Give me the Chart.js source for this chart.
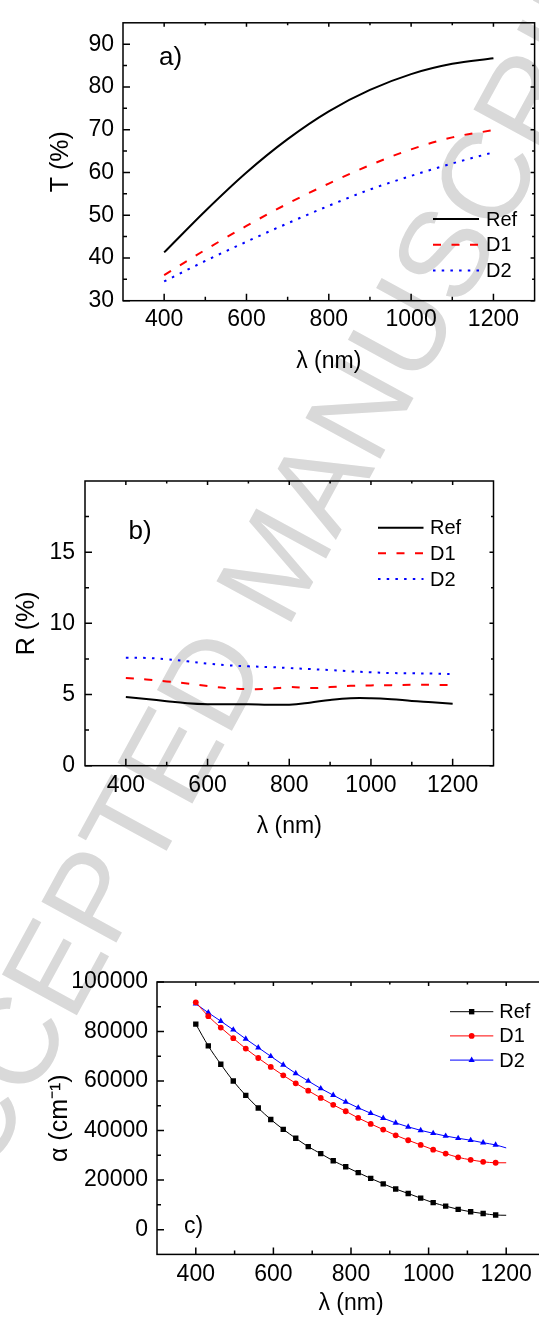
<!DOCTYPE html>
<html><head><meta charset="utf-8">
<script src="https://cdn.jsdelivr.net/npm/chart.js@4.4.1/dist/chart.umd.min.js"></script>
<style>
html,body{margin:0;padding:0;width:539px;height:1317px;overflow:hidden;background:#fff;}
#wm{position:absolute;left:275px;top:562px;transform:translate(-50%,-50%) rotate(-61.4deg);font:124px "Liberation Sans",Arial,sans-serif;color:#d9d9d9;white-space:nowrap;z-index:0;}
.box{position:absolute;left:0;z-index:1;}
canvas{display:block;}
</style></head><body>
<div id="wm">ACCEPTED MANUSCRIPT</div>
<div class="box" style="top:0px"><canvas id="ca" width="539" height="390"></canvas></div>
<div class="box" style="top:440px"><canvas id="cb" width="539" height="401"></canvas></div>
<div class="box" style="top:945px"><canvas id="cc" width="560" height="372"></canvas></div>
<script>
// ---------- data: panel a) transmittance ----------
const panelA_wavelength = [400, 500, 600, 700, 800, 900, 1000, 1100, 1200];
const panelA_T_Ref = [41.3, 51.0, 60.0, 67.8, 74.3, 79.3, 83.0, 85.4, 86.7];
const panelA_T_D1  = [36.0, 41.9, 47.5, 52.7, 57.4, 61.7, 65.4, 68.2, 69.9];
const panelA_T_D2  = [34.5, 39.3, 43.8, 48.1, 52.2, 56.0, 59.2, 62.1, 64.7];
const panelA_xTicks = [400, 600, 800, 1000, 1200];
const panelA_xMinor = [500, 700, 900, 1100];
const panelA_yTicks = [30, 40, 50, 60, 70, 80, 90];
const panelA_yMinor = [35, 45, 55, 65, 75, 85];

// ---------- data: panel b) reflectance ----------
const panelB_wavelength = [400, 450, 500, 550, 600, 650, 700, 750, 800, 850, 900, 950, 1000, 1050, 1100, 1150, 1200];
const panelB_R_Ref = [4.83, 4.69, 4.53, 4.39, 4.32, 4.32, 4.32, 4.29, 4.29, 4.43, 4.62, 4.74, 4.74, 4.67, 4.55, 4.46, 4.36];
const panelB_R_D1  = [6.16, 6.06, 5.92, 5.78, 5.59, 5.45, 5.38, 5.40, 5.52, 5.45, 5.52, 5.61, 5.64, 5.66, 5.68, 5.68, 5.66];
const panelB_R_D2  = [7.59, 7.57, 7.48, 7.33, 7.17, 7.05, 6.98, 6.93, 6.86, 6.79, 6.72, 6.63, 6.56, 6.51, 6.49, 6.47, 6.44];
const panelB_xTicks = [400, 600, 800, 1000, 1200];
const panelB_xMinor = [500, 700, 900, 1100];
const panelB_yTicks = [0, 5, 10, 15];
const panelB_yMinor = [2.5, 7.5, 12.5, 17.5];

// ---------- data: panel c) absorption coefficient ----------
const panelC_wavelength = [400, 432.2, 464.4, 496.6, 528.8, 561, 593.2, 625.4, 657.6, 689.8, 722, 754.2, 786.4, 818.6, 850.8, 883, 915.2, 947.4, 979.6, 1011.8, 1044, 1076.2, 1108.4, 1140.6, 1172.8, 1200];
const panelC_alpha_Ref = [83000, 74200, 66800, 60000, 54200, 49100, 44500, 40500, 36900, 33500, 30700, 27800, 25400, 23000, 20700, 18500, 16400, 14600, 12700, 10900, 9500, 8200, 7200, 6500, 5900, 5800];
const panelC_alpha_D1  = [91800, 86200, 81600, 77300, 73100, 69300, 65700, 62300, 59100, 56100, 53200, 50400, 47800, 45100, 42700, 40400, 38100, 36100, 34200, 32300, 30700, 29200, 28200, 27400, 27000, 27000];
const panelC_alpha_D2  = [91200, 87600, 84200, 80700, 77000, 73500, 70000, 66500, 63100, 60000, 57000, 54300, 51600, 49200, 47000, 45000, 43100, 41500, 40100, 38900, 37800, 36900, 36100, 35100, 34200, 33000];
const panelC_xTicks = [400, 600, 800, 1000, 1200];
const panelC_xMinor = [500, 700, 900, 1100];
const panelC_yTicks = [0, 20000, 40000, 60000, 80000, 100000];
const panelC_yMinor = [10000, 30000, 50000, 70000, 90000];

const seriesNames = ['Ref', 'D1', 'D2'];

// ---------- plugins ----------
Chart.defaults.font.family = '"Liberation Sans", Arial, sans-serif';
Chart.defaults.color = '#000';

const frameTicks = {
  id: 'frameTicks',
  afterDatasetsDraw(chart, args, o) {
    const {ctx, chartArea: a} = chart;
    const xs = chart.scales.x, ys = chart.scales.y;
    ctx.save();
    ctx.strokeStyle = '#000';
    ctx.lineWidth = 1.5;
    ctx.setLineDash([]);
    ctx.beginPath();
    const drawX = (vals, lb, lt) => vals.forEach(v => {
      const px = xs.getPixelForValue(v);
      ctx.moveTo(px, a.bottom); ctx.lineTo(px, a.bottom - lb);
      ctx.moveTo(px, a.top); ctx.lineTo(px, a.top + lt);
    });
    const drawY = (vals, ll, lr) => vals.forEach(v => {
      const py = ys.getPixelForValue(v);
      ctx.moveTo(a.left, py); ctx.lineTo(a.left + ll, py);
      ctx.moveTo(a.right, py); ctx.lineTo(a.right - lr, py);
    });
    drawX(o.xMajor, 7, 4); drawX(o.xMinor, 4, 2.5);
    drawY(o.yMajor, 7, 4); drawY(o.yMinor, 4, 2.5);
    ctx.stroke();
    ctx.strokeRect(a.left, a.top, a.right - a.left, a.bottom - a.top);
    ctx.restore();
  }
};

const inlineLegend = {
  id: 'inlineLegend',
  afterDraw(chart, args, o) {
    const ctx = chart.ctx;
    chart.data.datasets.forEach((ds, i) => {
      const yy = o.y0 + i * o.dy;
      ctx.save();
      ctx.strokeStyle = ds.borderColor;
      ctx.lineWidth = ds.borderWidth;
      ctx.setLineDash(ds.borderDash || []);
      ctx.beginPath(); ctx.moveTo(o.x0, yy); ctx.lineTo(o.x1, yy); ctx.stroke();
      ctx.setLineDash([]);
      if (o.markers) {
        ctx.fillStyle = ds.borderColor;
        Chart.helpers.drawPoint(ctx, {pointStyle: ds.pointStyle, rotation: 0, radius: ds.markerSize, borderWidth: 0}, (o.x0 + o.x1) / 2, yy);
      }
      ctx.fillStyle = '#000';
      ctx.font = o.font;
      ctx.textBaseline = 'middle';
      ctx.textAlign = 'left';
      ctx.fillText(ds.label, o.tx, yy + 1);
      ctx.restore();
    });
    ctx.save();
    ctx.fillStyle = '#000';
    ctx.font = o.panelFont;
    ctx.textBaseline = 'alphabetic';
    ctx.fillText(o.panel, o.px, o.py);
    ctx.restore();
  }
};

function pts(xs, ys) { return xs.map((x, i) => ({x: x, y: ys[i]})); }

function scales(c) {
  const tickFont = {size: 23};
  return {
    x: {
      type: 'linear', position: 'bottom', min: c.xMin, max: c.xMax,
      afterBuildTicks: s => { s.ticks = c.xTicks.map(v => ({value: v})); },
      afterFit: s => { s.height = c.xH; },
      grid: {display: false, drawTicks: false}, border: {display: false},
      ticks: {padding: c.xPad, font: tickFont, maxRotation: 0, autoSkip: false, callback: v => String(v)},
      title: {display: true, text: 'λ (nm)', font: {size: 23}, padding: {top: 0, bottom: c.xTitlePad}}
    },
    y: {
      type: 'linear', position: 'left', min: c.yMin, max: c.yMax,
      afterBuildTicks: s => { s.ticks = c.yTicks.map(v => ({value: v})); },
      afterFit: s => { s.width = c.yW; },
      grid: {display: false, drawTicks: false}, border: {display: false},
      ticks: {padding: c.yPad, font: tickFont, autoSkip: false, callback: v => String(v)},
      title: {display: true, text: c.yTitle, font: {size: 25}, padding: {top: c.yTitlePad, bottom: 0}}
    }
  };
}

// ---------- panel a ----------
new Chart(document.getElementById('ca'), {
  type: 'line',
  data: {datasets: [
    {label: seriesNames[0], data: pts(panelA_wavelength, panelA_T_Ref), borderColor: '#000000', borderWidth: 2, pointRadius: 0, cubicInterpolationMode: 'monotone'},
    {label: seriesNames[1], data: pts(panelA_wavelength, panelA_T_D1), borderColor: '#ff0000', borderWidth: 2, borderDash: [8, 10.5], pointRadius: 0, cubicInterpolationMode: 'monotone'},
    {label: seriesNames[2], data: pts(panelA_wavelength, panelA_T_D2), borderColor: '#0000ff', borderWidth: 2, borderDash: [2.5, 6.2], pointRadius: 0, cubicInterpolationMode: 'monotone'}
  ]},
  options: {
    responsive: false, animation: false, devicePixelRatio: 1,
    layout: {padding: {left: 0, top: 14, right: 4.4, bottom: 0}},
    scales: scales({xMin: 300, xMax: 1300, xTicks: panelA_xTicks, xH: 89.3, xPad: 5, xTitlePad: 14.5,
                     yMin: 30, yMax: 95, yTicks: panelA_yTicks, yW: 123, yPad: 9, yTitle: 'T (%)', yTitlePad: 46}),
    plugins: {
      legend: {display: false}, tooltip: {enabled: false},
      frameTicks: {xMajor: panelA_xTicks, xMinor: panelA_xMinor, yMajor: panelA_yTicks, yMinor: panelA_yMinor},
      inlineLegend: {x0: 433, x1: 479, tx: 486, y0: 219, dy: 25.7, font: '20px "Liberation Sans", Arial, sans-serif',
                     panel: 'a)', px: 159, py: 65, panelFont: '26px "Liberation Sans", Arial, sans-serif'}
    }
  },
  plugins: [frameTicks, inlineLegend]
});

// ---------- panel b ----------
new Chart(document.getElementById('cb'), {
  type: 'line',
  data: {datasets: [
    {label: seriesNames[0], data: pts(panelB_wavelength, panelB_R_Ref), borderColor: '#000000', borderWidth: 2, pointRadius: 0, tension: 0.4},
    {label: seriesNames[1], data: pts(panelB_wavelength, panelB_R_D1), borderColor: '#ff0000', borderWidth: 2, borderDash: [8, 10.5], pointRadius: 0, tension: 0.4},
    {label: seriesNames[2], data: pts(panelB_wavelength, panelB_R_D2), borderColor: '#0000ff', borderWidth: 2, borderDash: [2.5, 6.2], pointRadius: 0, tension: 0.4}
  ]},
  options: {
    responsive: false, animation: false, devicePixelRatio: 1,
    layout: {padding: {left: 0, top: 41, right: 45.5, bottom: 0}},
    scales: scales({xMin: 300, xMax: 1300, xTicks: panelB_xTicks, xH: 75.3, xPad: 6, xTitlePad: 0.5,
                     yMin: 0, yMax: 20, yTicks: panelB_yTicks, yW: 85, yPad: 10, yTitle: 'R (%)', yTitlePad: 12.5}),
    plugins: {
      legend: {display: false}, tooltip: {enabled: false},
      frameTicks: {xMajor: panelB_xTicks, xMinor: panelB_xMinor, yMajor: panelB_yTicks, yMinor: panelB_yMinor},
      inlineLegend: {x0: 378, x1: 423.5, tx: 430, y0: 87.7, dy: 25.65, font: '20px "Liberation Sans", Arial, sans-serif',
                     panel: 'b)', px: 128.5, py: 99, panelFont: '26px "Liberation Sans", Arial, sans-serif'}
    }
  },
  plugins: [frameTicks, inlineLegend]
});

// ---------- panel c ----------
const lastC = panelC_wavelength.length - 1;
function markerR(size) { return c => (c.dataIndex === lastC ? 0 : size); }
new Chart(document.getElementById('cc'), {
  type: 'line',
  data: {datasets: [
    {label: seriesNames[0], data: pts(panelC_wavelength, panelC_alpha_Ref), borderColor: '#000000', backgroundColor: '#000000', borderWidth: 1,
     pointStyle: 'rect', markerSize: 3.8, pointRadius: markerR(3.8), pointBorderWidth: 0, pointBackgroundColor: '#000000', cubicInterpolationMode: 'monotone'},
    {label: seriesNames[1], data: pts(panelC_wavelength, panelC_alpha_D1), borderColor: '#ff0000', backgroundColor: '#ff0000', borderWidth: 1,
     pointStyle: 'circle', markerSize: 2.9, pointRadius: markerR(2.9), pointBorderWidth: 0, pointBackgroundColor: '#ff0000', cubicInterpolationMode: 'monotone'},
    {label: seriesNames[2], data: pts(panelC_wavelength, panelC_alpha_D2), borderColor: '#0000ff', backgroundColor: '#0000ff', borderWidth: 1,
     pointStyle: 'triangle', markerSize: 3.6, pointRadius: markerR(3.6), pointBorderWidth: 0, pointBackgroundColor: '#0000ff', cubicInterpolationMode: 'monotone'}
  ]},
  options: {
    responsive: false, animation: false, devicePixelRatio: 1,
    layout: {padding: {left: 0, top: 37, right: 15, bottom: 0}},
    scales: scales({xMin: 300, xMax: 1300, xTicks: panelC_xTicks, xH: 62.6, xPad: 6, xTitlePad: 0,
                     yMin: -10000, yMax: 100000, yTicks: panelC_yTicks, yW: 157, yPad: 9, yTitle: 'α (cm⁻¹)', yTitlePad: 45}),
    plugins: {
      legend: {display: false}, tooltip: {enabled: false},
      frameTicks: {xMajor: panelC_xTicks, xMinor: panelC_xMinor, yMajor: panelC_yTicks, yMinor: panelC_yMinor},
      inlineLegend: {x0: 450, x1: 493.3, tx: 499.3, y0: 66.7, dy: 24.2, markers: true, font: '20px "Liberation Sans", Arial, sans-serif',
                     panel: 'c)', px: 184, py: 288, panelFont: '23px "Liberation Sans", Arial, sans-serif'}
    }
  },
  plugins: [frameTicks, inlineLegend]
});
</script>
</body></html>
